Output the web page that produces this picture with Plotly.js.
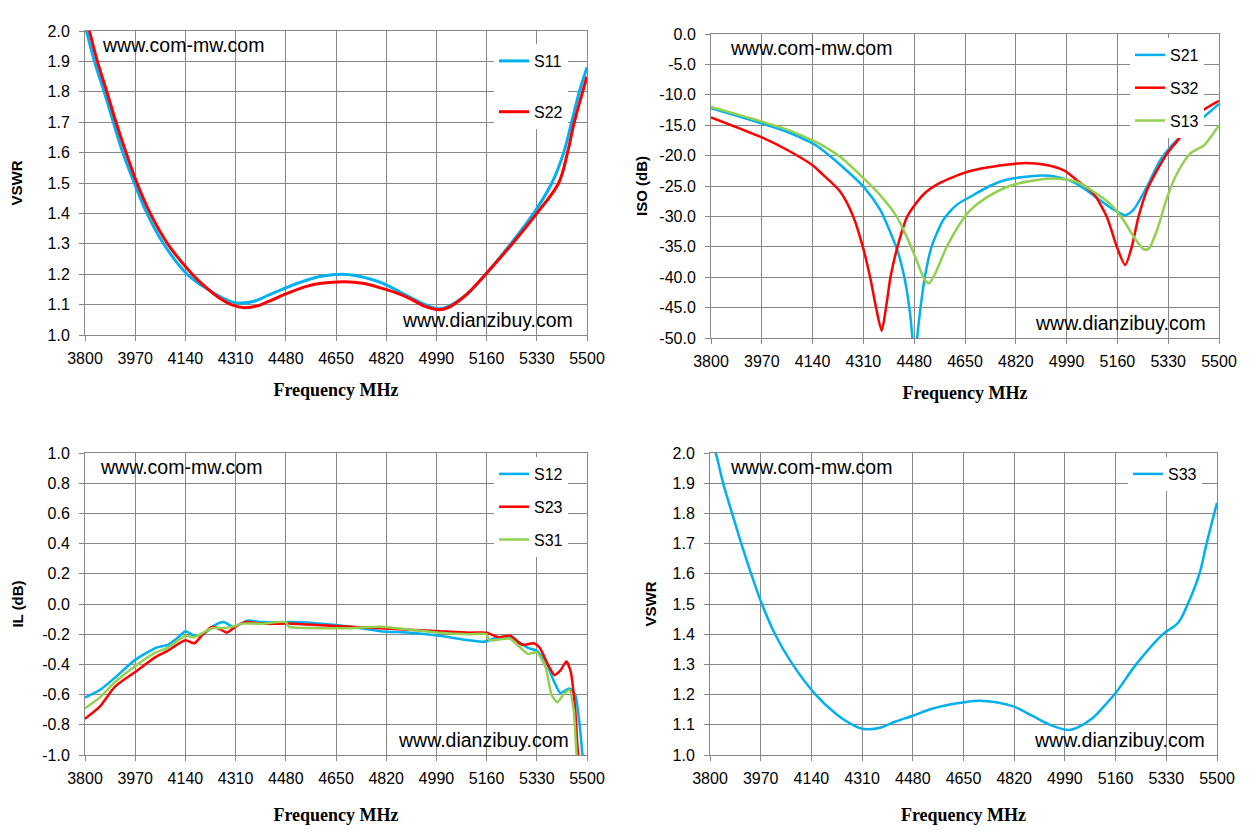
<!DOCTYPE html>
<html>
<head>
<meta charset="utf-8">
<script src="https://cdn.plot.ly/plotly-3.0.1.min.js"></script>
<style>html,body{margin:0;padding:0;background:#fff;}#chart{width:1253px;height:839px;}</style>
</head>
<body>
<div id="chart"></div>
<script>
// ---------- Data ----------
const freqTicks = [3800, 3970, 4140, 4310, 4480, 4650, 4820, 4990, 5160, 5330, 5500];

// VSWR S11 / S22 (top-left)
const s11F = [3800,3832,3865,3896,3928,3967,4010,4066,4146,4200,4250,4300,4330,4370,4420,4480,4550,4600,4670,4720,4780,4820,4880,4940,4990,5020,5060,5100,5157,5242,5319,5381,5421,5448,5474,5500];
const s11V = [2.02,1.90,1.80,1.70,1.60,1.50,1.40,1.30,1.20,1.16,1.13,1.108,1.105,1.11,1.13,1.155,1.18,1.193,1.20,1.195,1.18,1.165,1.135,1.105,1.087,1.09,1.11,1.14,1.20,1.30,1.40,1.50,1.60,1.70,1.80,1.88];
const s22F = [3800,3815,3842,3874,3905,3939,3976,4021,4080,4163,4200,4250,4300,4340,4380,4420,4480,4550,4600,4680,4740,4800,4850,4900,4950,5000,5030,5070,5100,5157,5247,5330,5404,5434,5457,5500];
const s22V = [2.06,2.00,1.90,1.80,1.70,1.60,1.50,1.40,1.30,1.20,1.165,1.125,1.098,1.09,1.095,1.11,1.135,1.16,1.17,1.175,1.17,1.155,1.14,1.12,1.095,1.083,1.09,1.115,1.14,1.20,1.30,1.40,1.50,1.60,1.70,1.85];

// Isolation S21 / S32 / S13 (top-right)
const s21F = [3800,3970,4060,4140,4165,4232,4310,4366,4399,4427,4449,4466,4474,4482,4490,4499,4516,4538,4577,4622,4667,4733,4786,4891,4958,5023,5079,5135,5186,5214,5259,5304,5360,5434,5500];
const s21V = [-12.2,-14.7,-16.2,-18.0,-18.8,-21.5,-25.1,-28.9,-32.5,-36.1,-40.5,-45.9,-50.0,-56.0,-50.0,-45.9,-39.9,-35.0,-30.6,-28.1,-26.8,-25.0,-24.0,-23.3,-23.5,-24.6,-26.5,-28.5,-29.8,-28.9,-25.1,-20.7,-17.4,-14.3,-11.5];
const s32F = [3800,3970,4060,4140,4165,4232,4276,4308,4332,4352,4371,4386,4401,4424,4457,4511,4566,4656,4719,4825,4852,4918,4984,5023,5079,5124,5158,5186,5208,5231,5259,5293,5327,5372,5434,5500];
const s32V = [-13.7,-17.0,-19.2,-21.6,-22.7,-25.9,-30.0,-35.0,-39.9,-44.9,-48.8,-44.9,-39.9,-35.0,-30.0,-26.4,-24.5,-22.7,-22.0,-21.3,-21.2,-21.5,-22.5,-24.0,-26.2,-30.0,-35.0,-38.0,-35.0,-30.0,-25.7,-22.4,-19.6,-16.9,-13.0,-11.0];
const s13F = [3800,3970,4060,4140,4165,4232,4310,4366,4421,4460,4488,4516,4530,4550,4589,4633,4667,4719,4799,4891,4958,5023,5079,5135,5180,5214,5248,5265,5293,5327,5360,5405,5450,5500];
const s13V = [-12.0,-14.4,-15.8,-17.5,-18.1,-20.2,-23.7,-26.5,-30.0,-33.9,-37.2,-40.5,-41.0,-39.4,-35.0,-31.2,-29.0,-27.0,-25.0,-24.0,-23.8,-24.3,-25.9,-27.9,-30.6,-33.3,-35.4,-35.3,-32.2,-26.8,-22.9,-19.6,-18.3,-15.0];

// Insertion loss S12 / S23 / S31 (bottom-left)
const s12F = [3800,3850,3900,3970,4040,4080,4110,4140,4170,4200,4240,4270,4300,4330,4350,4400,4500,4600,4700,4800,4900,5000,5100,5150,5200,5250,5300,5330,5360,5390,5410,5440,5460,5475,5485,5490];
const s12V = [-0.62,-0.57,-0.49,-0.37,-0.29,-0.27,-0.23,-0.18,-0.21,-0.20,-0.14,-0.12,-0.15,-0.13,-0.11,-0.12,-0.12,-0.13,-0.15,-0.18,-0.19,-0.21,-0.24,-0.25,-0.22,-0.23,-0.29,-0.31,-0.38,-0.52,-0.59,-0.56,-0.60,-0.80,-1.00,-1.05];
const s23F = [3800,3850,3900,3970,4040,4080,4140,4170,4200,4230,4260,4280,4310,4340,4400,4500,4600,4700,4800,4900,5000,5100,5160,5200,5240,5280,5320,5340,5370,5390,5410,5430,5445,5460,5470,5475];
const s23V = [-0.76,-0.68,-0.55,-0.45,-0.35,-0.31,-0.24,-0.26,-0.20,-0.15,-0.17,-0.19,-0.15,-0.12,-0.13,-0.13,-0.14,-0.15,-0.16,-0.17,-0.18,-0.19,-0.19,-0.22,-0.21,-0.27,-0.26,-0.29,-0.41,-0.47,-0.44,-0.38,-0.45,-0.70,-1.00,-1.05];
const s31F = [3800,3850,3900,3970,4040,4080,4140,4170,4200,4230,4260,4300,4330,4400,4480,4490,4600,4700,4800,4900,5000,5100,5160,5170,5240,5280,5300,5330,5360,5380,5400,5420,5440,5455,5465,5470];
const s31V = [-0.69,-0.62,-0.52,-0.41,-0.32,-0.29,-0.21,-0.22,-0.19,-0.16,-0.16,-0.15,-0.13,-0.13,-0.12,-0.15,-0.16,-0.16,-0.15,-0.17,-0.19,-0.20,-0.20,-0.24,-0.23,-0.30,-0.33,-0.32,-0.42,-0.60,-0.65,-0.60,-0.57,-0.70,-1.00,-1.05];

// VSWR S33 (bottom-right)
const s33F = [3800,3819,3844,3874,3905,3938,3974,4018,4077,4154,4226,4260,4300,4330,4370,4420,4480,4550,4620,4700,4760,4820,4880,4940,5000,5030,5080,5120,5160,5229,5319,5369,5402,5441,5465,5500];
const s33V = [2.05,2.00,1.90,1.80,1.70,1.60,1.50,1.40,1.30,1.20,1.133,1.11,1.09,1.085,1.09,1.11,1.13,1.155,1.17,1.18,1.175,1.16,1.13,1.10,1.083,1.09,1.12,1.16,1.205,1.30,1.40,1.437,1.50,1.60,1.70,1.835];

const vswrTicks = [1.0,1.1,1.2,1.3,1.4,1.5,1.6,1.7,1.8,1.9,2.0];
const isoTicks = [0,-5,-10,-15,-20,-25,-30,-35,-40,-45,-50];
const ilTicks = [1.0,0.8,0.6,0.4,0.2,0.0,-0.2,-0.4,-0.6,-0.8,-1.0];

// ---------- Styling ----------
const BLUE = '#00B0F0', RED = '#FF0000', GREEN = '#92D050';
const GRID = '#878787';
const tickFont = {family: 'Liberation Sans, Arial, sans-serif', size: 16, color: '#000'};
const W = 1253, H = 839;
const px = v => v / W, py = v => 1 - v / H;

function xAxis(x0, x1, anchor, standoff) {
  return {
    domain: [px(x0), px(x1)], anchor: anchor, range: [3800, 5500],
    tickvals: freqTicks, ticktext: freqTicks.map(String),
    ticks: 'outside', ticklen: 5, tickcolor: GRID, tickwidth: 1, ticklabelstandoff: 4,
    showgrid: true, gridcolor: GRID, gridwidth: 1,
    showline: true, linecolor: GRID, linewidth: 1, mirror: true,
    zeroline: false, tickfont: tickFont,
    title: {text: 'Frequency MHz', standoff: standoff,
      font: {family: 'Liberation Serif, DejaVu Serif, serif', size: 18, color: '#000', weight: 'bold'}}
  };
}
function yAxis(y0, y1, anchor, range, vals, title, standoff) {
  return {
    domain: [py(y1), py(y0)], anchor: anchor, range: range,
    tickvals: vals, ticktext: vals.map(v => v.toFixed(1)),
    ticks: 'outside', ticklen: 5, tickcolor: GRID, tickwidth: 1, ticklabelstandoff: 6,
    showgrid: true, gridcolor: GRID, gridwidth: 1,
    showline: true, linecolor: GRID, linewidth: 1, mirror: true,
    zeroline: false, tickfont: tickFont,
    title: {text: title, standoff: standoff,
      font: {family: 'Liberation Sans, Arial, sans-serif', size: 15, color: '#000', weight: 'bold'}}
  };
}

function tr(x, y, name, color, xa, ya, leg, w, smooth) {
  return {x: x, y: y, name: name, type: 'scatter', mode: 'lines', xaxis: xa, yaxis: ya,
    legend: leg, legendgroup: name,
    line: {color: color, width: w, shape: smooth ? 'spline' : 'linear', smoothing: smooth || 0}};
}

const data = [
  tr(s11F, s11V, 'S11', BLUE, 'x', 'y', 'legend', 3, 1),
  tr(s22F, s22V, 'S22', RED, 'x', 'y', 'legend', 3, 1),
  tr(s21F, s21V, 'S21', BLUE, 'x2', 'y2', 'legend2', 2.5, 0.7),
  tr(s32F, s32V, 'S32', RED, 'x2', 'y2', 'legend2', 2.5, 0.7),
  tr(s13F, s13V, 'S13', GREEN, 'x2', 'y2', 'legend2', 2.5, 0.7),
  tr(s12F, s12V, 'S12', BLUE, 'x3', 'y3', 'legend3', 2.5, 0.6),
  tr(s23F, s23V, 'S23', RED, 'x3', 'y3', 'legend3', 2.5, 0.6),
  tr(s31F, s31V, 'S31', GREEN, 'x3', 'y3', 'legend3', 2.5, 0.6),
  tr(s33F, s33V, 'S33', BLUE, 'x4', 'y4', 'legend4', 2.5, 1)
];

const legFont = {family: 'Liberation Sans, Arial, sans-serif', size: 16, color: '#000'};
function leg(x, y, gap) {
  return {x: px(x), y: py(y), xref: 'paper', yref: 'paper', xanchor: 'left', yanchor: 'top',
    bgcolor: '#fff', borderwidth: 0, font: legFont, tracegroupgap: gap, itemwidth: 30,
    traceorder: 'grouped'};
}

function wm(text, xa, x, y, xanchor) {
  return {text: text, xref: xa + ' domain', yref: xa.replace('x', 'y') + ' domain', x: x, y: y,
    xanchor: xanchor, yanchor: 'middle', showarrow: false,
    font: {family: 'Liberation Sans, Arial, sans-serif', size: 19.5, color: '#000'}};
}

const layout = {
  width: W, height: H, margin: {l: 0, r: 0, t: 0, b: 0},
  paper_bgcolor: '#fff', plot_bgcolor: '#fff', showlegend: true,
  xaxis: xAxis(85, 587, 'y', 17),
  yaxis: yAxis(31, 335, 'x', [1.0, 2.0], vswrTicks, 'VSWR', 21),
  xaxis2: xAxis(711, 1219, 'y2', 17),
  yaxis2: yAxis(34, 338, 'x2', [-50, 0], isoTicks, 'ISO (dB)', 8),
  xaxis3: xAxis(85, 587, 'y3', 22),
  yaxis3: yAxis(453, 755, 'x3', [-1.0, 1.0], ilTicks, 'IL (dB)', 14),
  xaxis4: xAxis(710, 1217, 'y4', 22),
  yaxis4: yAxis(453, 755, 'x4', [1.0, 2.0], vswrTicks, 'VSWR', 12),
  legend: leg(494, 44, 27),
  legend2: leg(1130, 38, 9),
  legend3: leg(494, 457, 9),
  legend4: leg(1128, 457, 9),
  annotations: [
    wm('www.com-mw.com', 'x', 0.03, 0.954, 'left'),
    wm('www.dianzibuy.com', 'x', 0.976, 0.05, 'right'),
    wm('www.com-mw.com', 'x2', 0.034, 0.954, 'left'),
    wm('www.dianzibuy.com', 'x2', 0.978, 0.05, 'right'),
    wm('www.com-mw.com', 'x3', 0.026, 0.954, 'left'),
    wm('www.dianzibuy.com', 'x3', 0.968, 0.05, 'right'),
    wm('www.com-mw.com', 'x4', 0.036, 0.954, 'left'),
    wm('www.dianzibuy.com', 'x4', 0.98, 0.05, 'right')
  ]
};

Plotly.newPlot('chart', data, layout, {staticPlot: true, displayModeBar: false});
</script>
</body>
</html>
